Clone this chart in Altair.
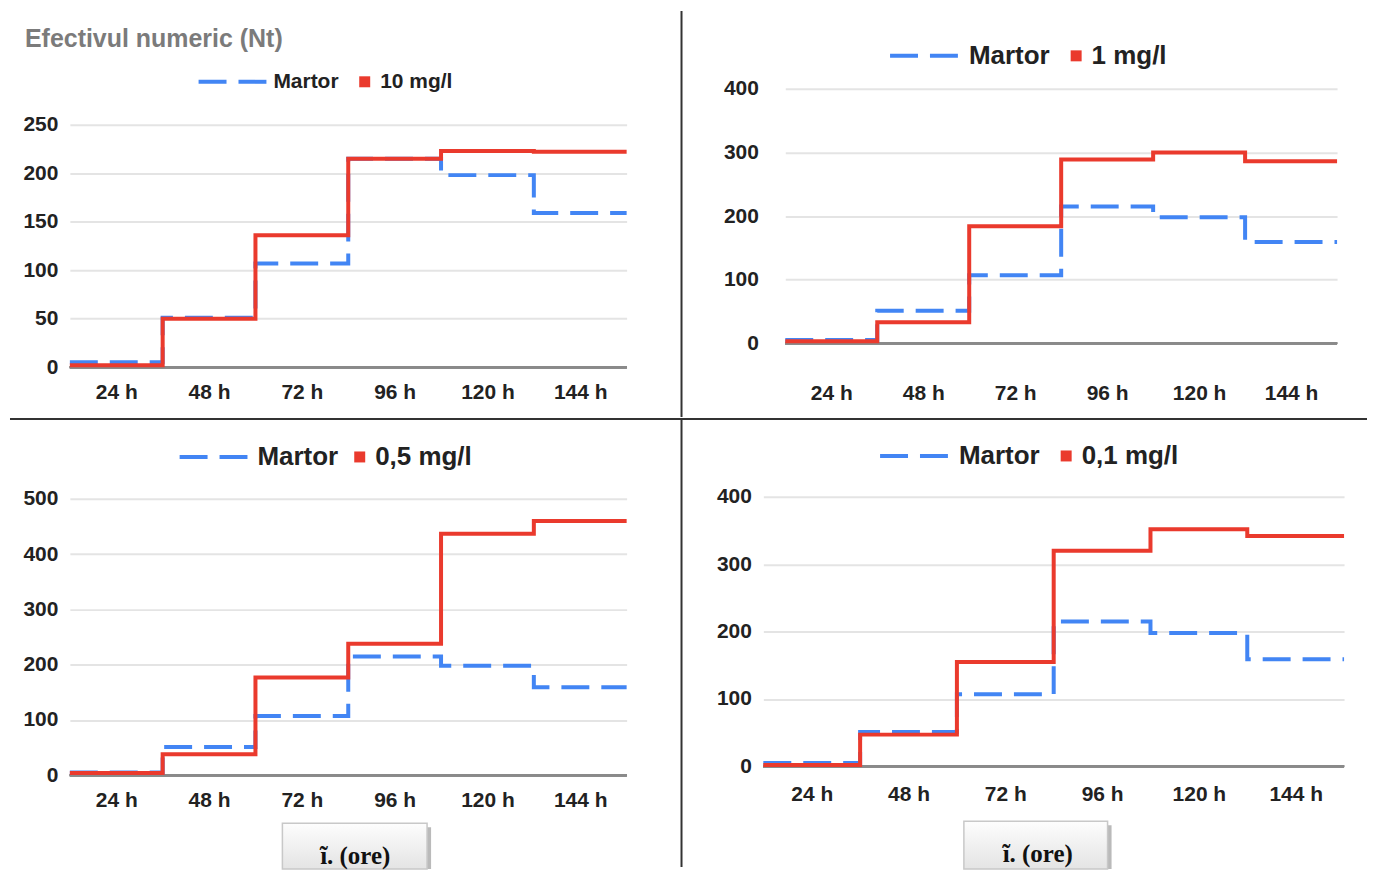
import altair as alt
import pandas as pd

# ---------------- data ----------------
ore = ["24 h", "48 h", "72 h", "96 h", "120 h", "144 h"]
martor = [5, 51, 107, 215, 198, 159]
trat_10 = [2, 50, 136, 215, 223, 222]
trat_1 = [3, 33, 184, 289, 300, 286]
trat_05 = [4, 38, 177, 238, 437, 460]
trat_01 = [2, 47, 155, 320, 352, 342]
denumiri = ["10 mg/l", "1 mg/l", "0,5 mg/l", "0,1 mg/l"]
valori_y1 = [0, 50, 100, 150, 200, 250]
valori_y2 = [0, 100, 200, 300, 400]
valori_y3 = [0, 100, 200, 300, 400, 500]
valori_y4 = [0, 100, 200, 300, 400]
titlu = "Efectivul numeric (Nt)"
eticheta_x = "ĩ. (ore)"

BLUE = "#4285F4"
RED = "#EA3A2D"
FONT = "Liberation Sans, Arial, Helvetica, sans-serif"
SERIF = "Liberation Serif, Times New Roman, serif"

label_expr = "[" + ",".join("'%s'" % h for h in ore) + "][floor(datum.value)]"
tick_x = [i + 0.5 for i in range(len(ore))]


def step_table(vals, serie):
    xs = list(range(len(vals) + 1))
    ys = list(vals) + [vals[-1]]
    return pd.DataFrame({"x": xs, "valoare": ys, "serie": serie})


def panel(name, vals, W, H, ydom, yvals, ylabpad, xlabpad, leg_fs,
          leg_m, leg_t, extra=None):
    """leg_m = (x, centre y, label offset); leg_t = (square x, centre y, label x)"""
    df = pd.concat([step_table(martor, "Martor"), step_table(vals, name)],
                   ignore_index=True)
    base = alt.Chart(df)
    xenc = alt.X("x:Q", scale=alt.Scale(domain=[0, 6], nice=False, zero=False),
                 axis=alt.Axis(values=tick_x, labelExpr=label_expr, grid=False,
                               ticks=False, tickSize=0, domain=False, title=None,
                               labelFont=FONT, labelFontSize=21,
                               labelFontWeight="bold", labelColor="#222",
                               labelPadding=xlabpad, labelOverlap=False))
    yenc = alt.Y("valoare:Q", scale=alt.Scale(domain=ydom, nice=False, zero=False),
                 axis=alt.Axis(values=yvals, grid=True, gridColor="#e4e4e4",
                               gridWidth=2, ticks=False, tickSize=0, domain=False,
                               title=None, labelFont=FONT, labelFontSize=21,
                               labelFontWeight="bold", labelColor="#222",
                               labelPadding=ylabpad, labelOverlap=False))
    zero = base.mark_rule(color="#8a8a8a", strokeWidth=2).encode(y=alt.datum(0))
    blue = base.transform_filter(alt.datum.serie == "Martor").mark_line(
        interpolate="step-after", strokeWidth=4, color=BLUE, strokeCap="butt"
    ).encode(
        x=xenc, y=yenc,
        strokeDash=alt.StrokeDash(
            "serie:N",
            scale=alt.Scale(domain=["Martor"], range=[[28, 12]]),
            legend=alt.Legend(orient="none", legendX=leg_m[0],
                              legendY=leg_m[1] - 36.5,
                              title=None, direction="horizontal",
                              symbolType="stroke", symbolSize=4761,
                              symbolStrokeWidth=4, symbolDash=[28, 12],
                              symbolStrokeColor=BLUE, labelFont=FONT,
                              labelFontSize=leg_fs, labelFontWeight="bold",
                              labelColor="#222", labelOffset=leg_m[2],
                              padding=0)))
    red = base.transform_filter(alt.datum.serie == name).mark_line(
        interpolate="step-after", strokeWidth=4, color=RED
    ).encode(x="x:Q", y="valoare:Q")
    lx = leg_t[0] - (leg_fs / 2 - 5.5)
    pts = base.transform_filter(alt.datum.serie == name).mark_point(
        filled=True, shape="square", opacity=0
    ).encode(
        x="x:Q", y="valoare:Q",
        color=alt.Color(
            "serie:N", scale=alt.Scale(domain=[name], range=[RED]),
            legend=alt.Legend(orient="none", legendX=lx,
                              legendY=leg_t[1] - leg_fs / 2,
                              title=None, direction="horizontal",
                              symbolType="square", symbolSize=121,
                              symbolOpacity=1, symbolStrokeWidth=0,
                              labelFont=FONT, labelFontSize=leg_fs,
                              labelFontWeight="bold", labelColor="#222",
                              labelOffset=max(0, leg_t[2] - lx - leg_fs),
                              padding=0)))
    layers = [zero, blue, red, pts] + (extra or [])
    return alt.layer(*layers).properties(width=W, height=H)


one = pd.DataFrame({"t": [titlu]})
lab = pd.DataFrame({"t": [eticheta_x]})

# decorations: title text and the two divider lines
title_txt = alt.Chart(one).mark_text(
    align="left", baseline="middle", font=FONT, fontSize=25,
    fontWeight="bold", color="#7b7b7b"
).encode(x=alt.value(-45), y=alt.value(18), text="t:N")
div_v_top = alt.Chart(one).mark_rule(color="#333", strokeWidth=2).encode(
    x=alt.value(613), y=alt.value(-10), y2=alt.value(397))
div_h = alt.Chart(one).mark_rule(color="#333", strokeWidth=2).encode(
    x=alt.value(-60), x2=alt.value(1300), y=alt.value(-13))
div_v_bot = alt.Chart(one).mark_rule(color="#333", strokeWidth=2).encode(
    x=alt.value(613), y=alt.value(-13), y2=alt.value(436))


def button(x1, x2, y1, y2, cx, cy):
    grad = alt.LinearGradient(
        gradient="linear",
        stops=[alt.GradientStop(color="#fdfdfd", offset=0),
               alt.GradientStop(color="#e4e4e4", offset=1)],
        x1=0, x2=0, y1=0, y2=1)
    shadow = alt.Chart(lab).mark_rect(color="#a9a9a9", opacity=0.8).encode(
        x=alt.value(x1 + 4), x2=alt.value(x2 + 4),
        y=alt.value(y1 + 4), y2=alt.value(y2))
    box = alt.Chart(lab).mark_rect(fill=grad, stroke="#c8c8c8",
                                   strokeWidth=1.5).encode(
        x=alt.value(x1), x2=alt.value(x2), y=alt.value(y1), y2=alt.value(y2))
    txt = alt.Chart(lab).mark_text(
        align="center", baseline="middle", font=SERIF, fontSize=25,
        fontWeight="bold", color="#111"
    ).encode(x=alt.value(cx), y=alt.value(cy), text="t:N")
    return [shadow, box, txt]


p1 = panel(denumiri[0], trat_10, 558, 347, [0, 357], valori_y1, 12, 14, 21,
           (127, 61, 4), (290, 61, 311), [title_txt, div_v_top])
p2 = panel(denumiri[1], trat_1, 553, 347, [-37.6, 506.7], valori_y2, 27, 15, 26,
           (103, 35, 8), (286, 35, 307))
p3 = panel(denumiri[2], trat_05, 558, 344, [0, 620.9], valori_y3, 12, 14, 26,
           (108, 25, 7), (285, 25, 306),
           [div_h, div_v_bot] + button(213, 358, 392, 438, 286, 425))
p4 = panel(denumiri[3], trat_01, 582, 335, [0, 496.3], valori_y4, 12, 17, 26,
           (115, 24, 8), (298, 24, 319),
           button(201, 345, 390, 438, 275, 423))


def indep(c):
    return c.resolve_scale(color="independent", strokeDash="independent") \
            .resolve_legend(color="independent", strokeDash="independent")


row1 = indep(alt.hconcat(p1, p2, spacing=159, bounds="flush"))
row2 = indep(alt.hconcat(p3, p4, spacing=137, bounds="flush"))
chart = indep(alt.vconcat(row1, row2, spacing=0)).properties(
    padding={"left": 1, "top": 1, "right": 0, "bottom": 0},
    background="white"
).configure_view(stroke=None)

chart.save("out.html", embed_options={"renderer": "svg", "actions": False})
